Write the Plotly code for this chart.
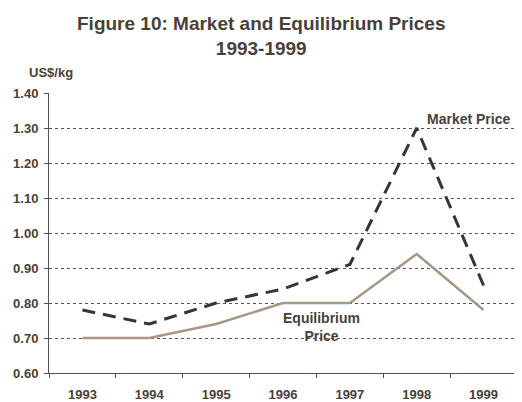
import plotly.graph_objects as go

years = ["1993", "1994", "1995", "1996", "1997", "1998", "1999"]
market_price = [0.78, 0.74, 0.80, 0.84, 0.91, 1.30, 0.85]
equilibrium_price = [0.70, 0.70, 0.74, 0.80, 0.80, 0.94, 0.78]
y_ticks = [0.60, 0.70, 0.80, 0.90, 1.00, 1.10, 1.20, 1.30, 1.40]

text_col = "#4a403a"
font_fam = "Liberation Sans, Arial, sans-serif"

fig = go.Figure()
fig.add_trace(go.Scatter(x=years, y=equilibrium_price, mode="lines",
                         line=dict(color="#a89686", width=2.5), name="Equilibrium Price"))
fig.add_trace(go.Scatter(x=years, y=market_price, mode="lines",
                         line=dict(color="#3d332d", width=3, dash="13px,8px"), name="Market Price"))

fig.update_layout(
    width=514, height=394,
    margin=dict(l=41, r=5, t=85, b=29),
    paper_bgcolor="white", plot_bgcolor="white",
    showlegend=False,
    font=dict(family=font_fam, color=text_col),
    xaxis=dict(type="category", range=[-0.5, 6.5], tickson="boundaries",
               ticks="outside", ticklen=4, tickcolor="#5a504a",
               showline=True, linecolor="#5a504a", linewidth=1,
               showgrid=False, tickfont=dict(size=13, color=text_col),
               ticklabelstandoff=9,
               tickprefix="<b>", ticksuffix="</b>", automargin=False),
    yaxis=dict(range=[0.60, 1.40], tickvals=y_ticks,
               ticktext=["<b>%.2f</b>" % v for v in y_ticks],
               ticks="outside", ticklen=4, tickcolor="#5a504a",
               showline=True, linecolor="#5a504a", linewidth=1,
               showgrid=True, gridcolor="#555555", griddash="dot", gridwidth=1,
               zeroline=False, tickfont=dict(size=13, color=text_col),
               ticklabelstandoff=3, automargin=False),
)

fig.add_annotation(text="<b>Figure 10: Market and Equilibrium Prices<br>1993-1999</b>",
                   xref="paper", yref="paper", x=(261 - 49) / 468, y=1 + (93 - 36) / 280,
                   xanchor="center", yanchor="middle", showarrow=False,
                   font=dict(size=19, color=text_col))
fig.add_annotation(text="<b>US$/kg</b>", xref="paper", yref="paper",
                   x=-22 / 468, y=1 + (93 - 72) / 280, xanchor="left", yanchor="middle",
                   showarrow=False, font=dict(size=13, color=text_col))
fig.add_annotation(text="<b>Market Price</b>", x=5.78, y=1.326,
                   xanchor="center", yanchor="middle",
                   showarrow=False, font=dict(size=14, color=text_col))
fig.add_annotation(text="<b>Equilibrium<br>Price</b>", x=3.58, y=0.731,
                   xanchor="center", yanchor="middle",
                   showarrow=False, font=dict(size=14, color=text_col))

fig.write_html("out.html")
